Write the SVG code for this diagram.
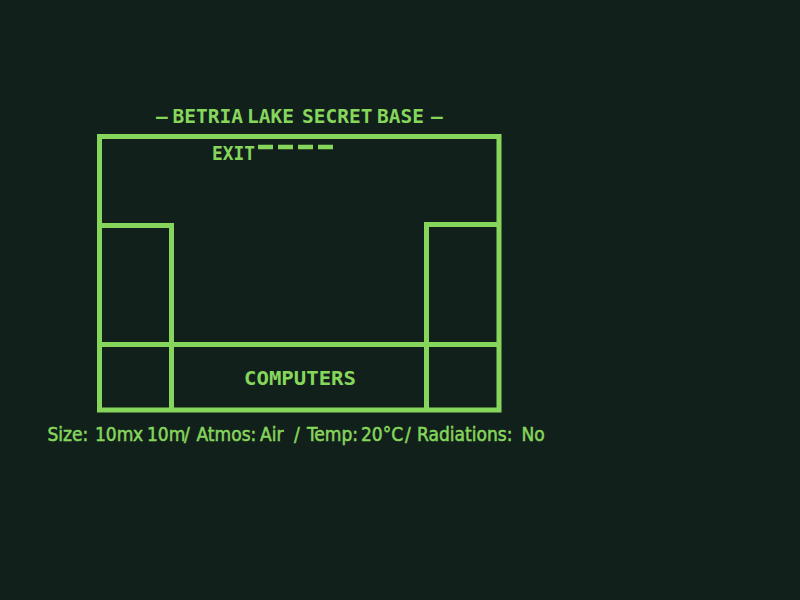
<svg xmlns="http://www.w3.org/2000/svg" width="800" height="600" viewBox="0 0 800 600">
<style>
.w{fill:none;stroke:#86d65c;stroke-width:5}
text{fill:#86d65c}
.l{font-family:"DejaVu Sans Mono","DejaVu Sans",monospace;font-weight:700;font-size:19.500px}
.s{font-family:"DejaVu Sans",sans-serif;font-stretch:condensed;font-size:19px;stroke:#86d65c;stroke-width:.5px}
</style>
<rect width="800" height="600" fill="#12201b"/>
<g id="walls">
<rect id="base-outline" class="w" x="99.500" y="136.500" width="399.500" height="273.500"/>
<path id="left-room" class="w" d="M99.500 225.500H171.500V409.500"/>
<path id="right-room" class="w" d="M499 224.500H426.500V409.500"/>
<path id="computer-wall" class="w" d="M99.500 344.500H498.500"/>
</g>
<g id="exit">
<path d="M258 147H333" fill="none" stroke="#86d65c" stroke-width="4.500" stroke-dasharray="15 5"/>
<text class="l" x="212" y="160" textLength="43" lengthAdjust="spacingAndGlyphs">EXIT</text>
</g>
<text id="title" class="l" y="122.500"><tspan x="156">–</tspan> <tspan x="172.500">BETRIA</tspan> <tspan x="247">LAKE</tspan> <tspan x="302">SECRET</tspan> <tspan x="377">BASE</tspan> <tspan x="431">–</tspan></text>
<text id="computers" class="l" x="244" y="385" textLength="112" lengthAdjust="spacingAndGlyphs">COMPUTERS</text>
<text id="stats" class="s" y="441"><tspan x="47.500">Size:</tspan> <tspan x="95">10m</tspan> <tspan x="133">x</tspan> <tspan x="147">10m</tspan> <tspan x="184">/</tspan> <tspan x="196.500">Atmos:</tspan> <tspan x="260">Air</tspan> <tspan x="294">/</tspan> <tspan x="307">Temp:</tspan> <tspan x="361">20°C</tspan> <tspan x="405">/</tspan> <tspan x="417">Radiations:</tspan> <tspan x="521.500">No</tspan></text>
</svg>
